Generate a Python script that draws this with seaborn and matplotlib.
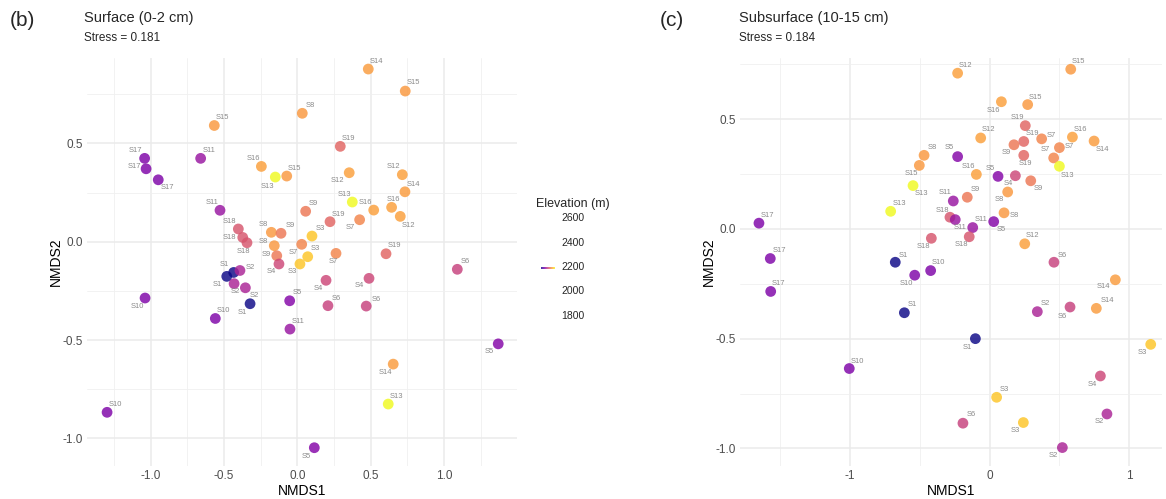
import numpy as np
import pandas as pd
import matplotlib
matplotlib.use("Agg")
import matplotlib.pyplot as plt
import seaborn as sns

sns.set_theme(style="whitegrid")
plt.rcParams['font.family'] = ['Liberation Sans', 'DejaVu Sans']
plt.rcParams['axes.unicode_minus'] = False

# Elevation (m) of each site
elevation = {
    'S1': 1760, 'S2': 2100, 'S3': 2550, 'S4': 2210, 'S5': 2000, 'S6': 2190,
    'S7': 2390, 'S8': 2445, 'S9': 2355, 'S10': 1985, 'S11': 2050, 'S12': 2460,
    'S13': 2660, 'S14': 2450, 'S15': 2445, 'S16': 2460, 'S17': 1985, 'S18': 2255,
    'S19': 2300,
}

# Surface (0-2 cm) NMDS scores
sites_b = ['S15', 'S17', 'S17', 'S17', 'S11', 'S16', 'S13', 'S15', 'S11', 'S8',
           'S14', 'S15', 'S19', 'S12', 'S12', 'S14', 'S13', 'S16', 'S16', 'S12',
           'S9', 'S19', 'S7', 'S18', 'S18', 'S18', 'S8', 'S9', 'S8', 'S9',
           'S4', 'S7', 'S3', 'S3', 'S3', 'S1', 'S1', 'S2', 'S2', 'S2',
           'S1', 'S10', 'S10', 'S5', 'S11', 'S7', 'S19', 'S4', 'S4', 'S6',
           'S6', 'S6', 'S5', 'S14', 'S13', 'S10', 'S5']
nmds1_b = [-0.566, -1.041, -1.031, -0.948, -0.659, -0.245, -0.150, -0.072, -0.527, 0.034,
           0.484, 0.736, 0.293, 0.354, 0.716, 0.734, 0.375, 0.521, 0.643, 0.702,
           0.057, 0.223, 0.425, -0.402, -0.372, -0.343, -0.177, -0.111, -0.157, -0.140,
           -0.125, 0.030, 0.018, 0.071, 0.100, -0.481, -0.434, -0.391, -0.431, -0.354,
           -0.322, -1.038, -0.559, -0.052, -0.050, 0.264, 0.605, 0.196, 0.489, 0.209,
           0.470, 1.091, 1.370, 0.654, 0.620, -1.297, 0.116]
nmds2_b = [0.591, 0.424, 0.371, 0.315, 0.424, 0.383, 0.329, 0.334, 0.160, 0.653,
           0.878, 0.766, 0.485, 0.351, 0.341, 0.254, 0.202, 0.161, 0.175, 0.129,
           0.155, 0.102, 0.112, 0.065, 0.022, -0.005, 0.048, 0.043, -0.020, -0.071,
           -0.113, -0.013, -0.113, -0.076, 0.029, -0.176, -0.156, -0.146, -0.213, -0.234,
           -0.315, -0.286, -0.390, -0.300, -0.444, -0.059, -0.061, -0.196, -0.186, -0.325,
           -0.327, -0.140, -0.519, -0.622, -0.825, -0.867, -1.047]
# label nudges (pixels)
nudge_b = [(8, 8), (-9, 8), (-12, 2), (9, -8), (8, 8), (-8, 8), (-8, -9), (8, 8), (-8, 8), (8, 8),
           (8, 8), (8, 9), (8, 8), (-12, -8), (-9, 8), (8, 7), (-8, 8), (-8, 8), (2, 8), (8, -9),
           (8, 8), (8, 7), (-9, -8), (-9, 7), (-13, 0), (-4, -9), (-8, 8), (9, 8), (-11, 4), (-10, 1),
           (-8, -8), (-8, -8), (-8, -8), (8, 8), (8, 8), (-9, -8), (-9, 8), (10, 3), (1, -8), (9, -8),
           (-8, -9), (-8, -8), (8, 8), (8, 8), (8, 8), (-3, -8), (8, 8), (-8, -8), (-10, -7), (8, 7),
           (10, 7), (8, 8), (-9, -8), (-8, -8), (8, 8), (8, 8), (-8, -9)]

# Subsurface (10-15 cm) NMDS scores
sites_c = ['S8', 'S15', 'S13', 'S13', 'S17', 'S18', 'S18',
           'S12', 'S15', 'S16', 'S15', 'S19', 'S12', 'S19', 'S9', 'S7', 'S16',
           'S14', 'S7', 'S7', 'S13', 'S19', 'S5', 'S16', 'S5', 'S4', 'S9',
           'S8', 'S9', 'S11', 'S8', 'S11', 'S5', 'S11', 'S18', 'S12',
           'S17', 'S17', 'S1', 'S10', 'S10', 'S1', 'S10',
           'S6', 'S14', 'S2', 'S6', 'S14', 'S1', 'S3', 'S4', 'S3', 'S6', 'S3', 'S2', 'S2']
nmds1_c = [-0.468, -0.502, -0.547, -0.707, -1.649, -0.416, -0.283,
           -0.228, 0.581, 0.085, 0.273, 0.256, -0.063, 0.245, 0.175, 0.373, 0.593,
           0.748, 0.500, 0.459, 0.500, 0.245, -0.228, -0.094, 0.061, 0.185, 0.295,
           0.130, -0.159, -0.259, 0.104, -0.245, 0.030, -0.120, -0.145, 0.252,
           -1.568, -1.565, -0.674, -0.535, -0.421, -0.609, -1.003,
           0.461, 0.900, 0.342, 0.576, 0.764, -0.101, 1.153, 0.793, 0.051, -0.190, 0.242, 0.840, 0.521]
nmds2_c = [0.335, 0.289, 0.197, 0.080, 0.026, -0.043, 0.053,
           0.709, 0.727, 0.579, 0.566, 0.470, 0.414, 0.398, 0.383, 0.410, 0.418,
           0.400, 0.370, 0.323, 0.285, 0.335, 0.329, 0.248, 0.239, 0.242, 0.219,
           0.168, 0.144, 0.127, 0.073, 0.042, 0.033, 0.006, -0.036, -0.068,
           -0.135, -0.285, -0.152, -0.211, -0.190, -0.382, -0.636,
           -0.152, -0.232, -0.377, -0.356, -0.362, -0.500, -0.526, -0.670, -0.767, -0.885, -0.882, -0.843, -0.996]
nudge_c = [(8, 8), (-8, -8), (8, -8), (9, 8), (8, 8), (-8, -8), (-8, 7),
           (8, 8), (8, 8), (-8, -9), (8, 7), (-8, 8), (8, 8), (9, 8), (-8, -8), (10, 3), (8, 8),
           (8, -8), (10, 1), (-8, 8), (8, -9), (2, -8), (-8, 9), (-8, 8), (-8, 8), (-7, -8), (8, -8),
           (-8, -8), (8, 8), (-8, 8), (10, -3), (5, -8), (8, -8), (8, 8), (-8, -8), (8, 8),
           (9, 8), (8, 8), (8, 7), (-8, -8), (8, 8), (8, 8), (8, 7),
           (8, 7), (-12, -7), (8, 8), (-8, -9), (11, 8), (-8, -9), (-8, -8), (-8, -9), (8, 8), (8, 9), (-8, -8), (-8, -8), (-9, -8)]

legend_breaks = [2600, 2400, 2200, 2000, 1800]

df_b = pd.DataFrame({'site': sites_b, 'NMDS1': nmds1_b, 'NMDS2': nmds2_b})
df_c = pd.DataFrame({'site': sites_c, 'NMDS1': nmds1_c, 'NMDS2': nmds2_c})
for d in (df_b, df_c):
    d['Elevation'] = d['site'].map(elevation)

norm = (min(elevation.values()), max(elevation.values()))

fig = plt.figure(figsize=(11.66, 4.99), dpi=100)
ax_b = fig.add_axes([0.0746, 0.0661, 0.3688, 0.8176])
ax_c = fig.add_axes([0.6346, 0.0661, 0.3620, 0.8176])


def draw_panel(ax, d, nudges, xlim, ylim, xmajor, xminor, yminor):
    sns.scatterplot(data=d, x='NMDS1', y='NMDS2', hue='Elevation', palette='plasma',
                    hue_norm=norm, s=60, alpha=0.82, edgecolor='none', legend=False, ax=ax)
    for (_, r), (dx, dy) in zip(d.iterrows(), nudges):
        ax.annotate(r['site'], (r['NMDS1'], r['NMDS2']), xytext=(dx, dy),
                    textcoords='offset pixels', ha='center', va='center',
                    fontsize=5.5, color='#8a8a8a')
    ax.set_xlim(xlim)
    ax.set_ylim(ylim)
    ax.set_xticks(xmajor)
    ax.set_xticks(xminor, minor=True)
    ax.set_yticks([-1.0, -0.5, 0.0, 0.5])
    ax.set_yticks(yminor, minor=True)
    ax.set_facecolor('white')
    ax.grid(which='major', color='#ebebeb', lw=1.1)
    ax.grid(which='minor', color='#f0f0f0', lw=0.6)
    for sp in ax.spines.values():
        sp.set_visible(False)
    ax.tick_params(which='both', length=0, labelsize=8.5, labelcolor='#4d4d4d', pad=3)
    ax.set_xlabel('NMDS1', fontsize=10, color='black', labelpad=1)
    ax.set_ylabel('NMDS2', fontsize=10, color='black', labelpad=0)


draw_panel(ax_b, df_b, nudge_b, (-1.434, 1.498), (-1.14, 0.934),
           [-1.0, -0.5, 0.0, 0.5, 1.0], [-1.25, -0.75, -0.25, 0.25, 0.75, 1.25],
           [-0.75, -0.25, 0.25, 0.75])
ax_b.set_xticklabels(['-1.0', '-0.5', '0.0', '0.5', '1.0'])
draw_panel(ax_c, df_c, nudge_c, (-1.785, 1.234), (-1.08, 0.778),
           [-1, 0, 1], [-1.5, -0.5, 0.5], [-0.75, -0.25, 0.25, 0.75])
ax_c.set_xticklabels(['-1', '0', '1'])
for ax in (ax_b, ax_c):
    ax.set_yticklabels(['-1.0', '-0.5', '0.0', '0.5'])

# titles
fig.text(0.008, 0.958, '(b)', fontsize=15, va='center')
fig.text(0.072, 0.964, 'Surface (0-2 cm)', fontsize=10.5, va='center')
fig.text(0.072, 0.924, 'Stress = 0.181', fontsize=8.5, va='center')
fig.text(0.566, 0.958, '(c)', fontsize=15, va='center')
fig.text(0.634, 0.964, 'Subsurface (10-15 cm)', fontsize=10.5, va='center')
fig.text(0.634, 0.924, 'Stress = 0.184', fontsize=8.5, va='center')

# legend (squashed colourbar as in the original)
fig.text(0.460, 1 - 204 / 499, 'Elevation (m)', fontsize=9, va='center')
for i, b in enumerate(legend_breaks):
    fig.text(0.4915, 1 - (218 + i * 24.5) / 499, str(b), fontsize=7.5, va='center', ha='center')
cax = fig.add_axes([541 / 1166, 1 - 268.5 / 499, 14 / 1166, 2 / 499])
cax.imshow(np.linspace(0, 1, 50)[None, :], aspect='auto', cmap='plasma', alpha=0.8)
cax.axis('off')

fig.savefig('out.png', dpi=100)
